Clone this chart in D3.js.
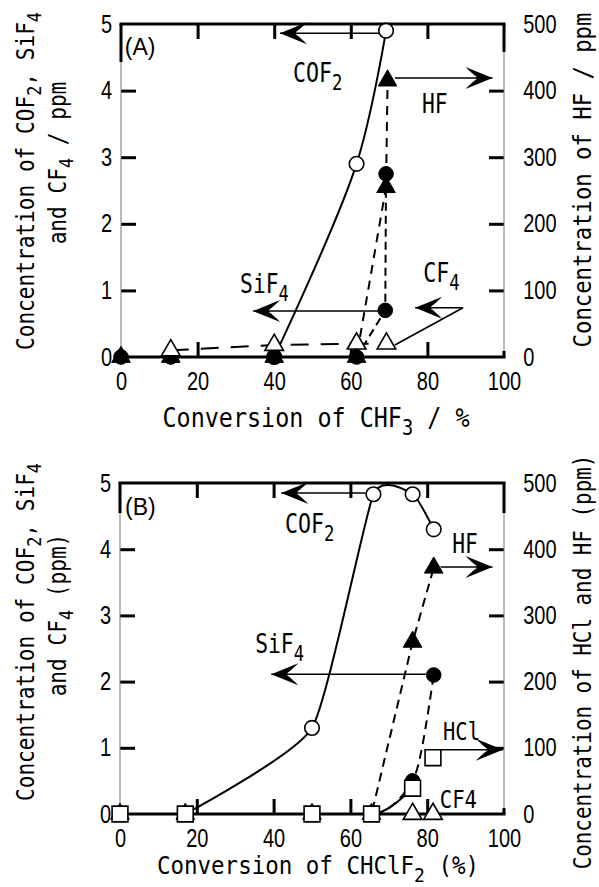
<!DOCTYPE html>
<html><head><meta charset="utf-8">
<script src="https://cdn.jsdelivr.net/npm/d3@7"></script>
<style>body{margin:0;background:#fff}</style>
</head><body>
<svg id="fig" width="599" height="887"></svg>
<script>
// ---- (A) CHF3 conversion ----
const convA_COF2 = [40, 61.5, 69.2];
const valA_COF2  = [0, 2.9, 4.9];          // ppm, left axis
const convA_SiF4 = [0, 13, 40, 61.5, 69, 69.2];
const valA_SiF4  = [0, 0, 0, 0, 0.7, 2.75]; // ppm, left axis
const convA_HF   = [0, 13, 40, 61.5, 69.2, 69.6];
const valA_HF    = [0, 0, 0, 0, 255, 415];  // ppm, right axis
const convA_CF4  = [13, 40, 61.5, 69.3];
const valA_CF4   = [0.1, 0.18, 0.2, 0.2];   // ppm, left axis

// ---- (B) CHClF2 conversion ----
const convB_COF2 = [17, 50, 66, 76.2, 81.7];
const valB_COF2  = [0, 1.3, 4.83, 4.83, 4.3];
const convB_SiF4 = [0, 17, 50, 65.5, 76.2, 81.7];
const valB_SiF4  = [0, 0, 0, 0, 0.5, 2.1];
const convB_HF   = [0, 17, 50, 65.5, 76.2, 81.7];
const valB_HF    = [0, 0, 0, 0, 260, 372];
const convB_HCl  = [0, 17, 50, 65.5, 76.2, 81.5];
const valB_HCl   = [0, 0, 0, 0, 39, 85];
const convB_CF4  = [76.2, 81.5];
const valB_CF4   = [0, 0];

const xTicks = [0, 20, 40, 60, 80, 100];
const yLeftTicks = [0, 1, 2, 3, 4, 5];
const yRightTicks = [0, 100, 200, 300, 400, 500];

const MONO = "'DejaVu Sans Mono', 'Liberation Mono', monospace";
const SANS = "'Liberation Sans', Arial, sans-serif";
const svg = d3.select("#fig");

const zip = (xs, ys) => xs.map((v, i) => [v, ys[i]]);

// text with optional subscripts: parts starting with "_" are subscripted
function label(g, x, y, parts, o) {
  const s = o.size;
  const t = g.append("text")
    .attr("transform", `translate(${x},${y}) rotate(${o.rot || 0}) scale(${o.sx || 1},1)`)
    .attr("font-family", o.font || MONO).attr("font-size", s)
    .attr("text-anchor", o.anchor || "start").attr("fill", "#000")
    .style("white-space", "pre");
  let down = 0;
  parts.forEach(p => {
    const sub = p.startsWith("_");
    const want = sub ? s * 0.3 : 0;
    t.append("tspan").attr("font-size", sub ? s * 0.8 : s)
      .attr("dy", want - down).text(sub ? p.slice(1) : p);
    down = want;
  });
}

// arrow along a polyline, head at the last point
function arrow(g, pts) {
  g.append("path").attr("d", d3.line()(pts)).attr("fill", "none")
    .attr("stroke", "#000").attr("stroke-width", 1.6);
  const [x2, y2] = pts[pts.length - 1], [x1, y1] = pts[pts.length - 2];
  const ang = Math.atan2(y1 - y2, x1 - x2) * 180 / Math.PI;
  g.append("path")
    .attr("d", "M0,0 L27,-11 Q20,-4 16,-1.3 L16,1.3 Q20,4 27,11 Z")
    .attr("transform", `translate(${x2},${y2}) rotate(${ang})`)
    .attr("fill", "#000");
}

function panel(cfg) {
  const g = svg.append("g");
  const x = d3.scaleLinear().domain([0, 100]).range([cfg.left, cfg.right]);
  const yL = d3.scaleLinear().domain([0, 5]).range([cfg.bottom, cfg.top]);
  const yR = d3.scaleLinear().domain([0, 500]).range([cfg.bottom, cfg.top]);

  const style = (ax, ends) => {
    ax.select(".domain").remove();
    ax.selectAll(".tick line").attr("stroke", "#000").attr("stroke-width", 3);
    ax.selectAll(".tick").filter(d => ends.includes(d)).select("line").remove();
    ax.selectAll(".tick text").attr("font-family", SANS).attr("font-size", 25)
      .attr("fill", "#000").attr("transform", "scale(0.8,1)");
  };

  style(g.append("g").attr("transform", `translate(${cfg.left},0)`)
    .call(d3.axisLeft(yL).tickValues(yLeftTicks).tickSizeInner(-15).tickSizeOuter(0).tickPadding(11)
      .tickFormat(d3.format("d"))), [0, 5]);
  style(g.append("g").attr("transform", `translate(${cfg.right},0)`)
    .call(d3.axisRight(yR).tickValues(yRightTicks).tickSizeInner(-15).tickSizeOuter(0).tickPadding(24)
      .tickFormat(d3.format("d"))), [0, 500]);
  style(g.append("g").attr("transform", `translate(0,${cfg.bottom})`)
    .call(d3.axisBottom(x).tickValues(xTicks).tickSizeInner(-15).tickSizeOuter(0).tickPadding(15)
      .tickFormat(d3.format("d"))), [0, 100]);
  style(g.append("g").attr("transform", `translate(0,${cfg.top})`)
    .call(d3.axisTop(x).tickValues(xTicks).tickSizeInner(-15).tickSizeOuter(0)
      .tickFormat(() => "")), [0, 100]);

  // frame: heavy top/bottom, light sides with heavy stubs at corners
  const fr = g.append("g").attr("stroke", "#000");
  fr.append("line").attr("x1", cfg.left - 1.5).attr("x2", cfg.right + 1.5)
    .attr("y1", cfg.top).attr("y2", cfg.top).attr("stroke-width", 3);
  fr.append("line").attr("x1", cfg.left - 1.5).attr("x2", cfg.right + 1.5)
    .attr("y1", cfg.bottom).attr("y2", cfg.bottom).attr("stroke-width", 3);
  fr.append("line").attr("x1", cfg.left).attr("x2", cfg.left)
    .attr("y1", cfg.top).attr("y2", cfg.bottom).attr("stroke", "#777").attr("stroke-width", 1);
  fr.append("line").attr("x1", cfg.right).attr("x2", cfg.right)
    .attr("y1", cfg.top).attr("y2", cfg.bottom).attr("stroke", "#777").attr("stroke-width", 1);
  fr.append("line").attr("x1", cfg.left).attr("x2", cfg.left)
    .attr("y1", cfg.top).attr("y2", cfg.top + cfg.lcap).attr("stroke-width", 3);
  fr.append("line").attr("x1", cfg.right).attr("x2", cfg.right)
    .attr("y1", cfg.top).attr("y2", cfg.top + cfg.rcap).attr("stroke-width", 3);
  fr.append("line").attr("x1", cfg.right).attr("x2", cfg.right)
    .attr("y1", cfg.bottom - 6).attr("y2", cfg.bottom).attr("stroke-width", 3);

  return { g, x, yL, yR };
}

function curve(P, pts, y, c, dash, w) {
  P.g.append("path")
    .attr("d", d3.line().x(d => P.x(d[0])).y(d => y(d[1])).curve(c)(pts))
    .attr("fill", "none").attr("stroke", "#000").attr("stroke-width", w || 2)
    .attr("stroke-dasharray", dash || null);
}
const triSym = d3.symbol().type(d3.symbolTriangle).size(150)();
const sqSym = d3.symbol().type(d3.symbolSquare).size(250)();
function marks(P, pts, y, kind, filled) {
  const sel = P.g.append("g").selectAll("*").data(pts);
  const common = s => s.attr("fill", filled ? "#000" : "#fff")
    .attr("stroke", "#000").attr("stroke-width", filled ? 1 : 1.6);
  if (kind === "circle") {
    common(sel.join("circle").attr("cx", d => P.x(d[0])).attr("cy", d => y(d[1])).attr("r", 7.3));
  } else {
    common(sel.join("path").attr("d", kind === "tri" ? triSym : sqSym)
      .attr("transform", d => `translate(${P.x(d[0])},${y(d[1])})`));
  }
}

// ================= Panel (A) =================
const A = panel({ left: 121, right: 504, top: 24, bottom: 357, lcap: 38, rcap: 28 });
curve(A, zip(convA_COF2, valA_COF2), A.yL, d3.curveCatmullRom.alpha(0.5));
curve(A, zip(convA_SiF4, valA_SiF4), A.yL, d3.curveLinear, "8,5");
curve(A, zip(convA_HF, valA_HF), A.yR, d3.curveLinear, "9,7");
curve(A, zip(convA_CF4, valA_CF4), A.yL, d3.curveLinear, "18,12");

arrow(A.g, [[A.x(67.3), A.yL(4.86)], [A.x(41.5), A.yL(4.86)]]);
arrow(A.g, [[A.x(71.5), A.yR(419)], [A.x(97), A.yR(419)]]);
arrow(A.g, [[A.x(67.2), A.yL(0.69)], [A.x(34.5), A.yL(0.69)]]);
arrow(A.g, [[A.x(71.5), A.yL(0.18)], [A.x(89.3), A.yL(0.74)], [A.x(76.8), A.yL(0.74)]]);

marks(A, zip(convA_COF2, valA_COF2), A.yL, "circle", false);
marks(A, zip(convA_SiF4, valA_SiF4), A.yL, "circle", true);
marks(A, zip(convA_HF, valA_HF), A.yR, "tri", true);
marks(A, zip(convA_CF4, valA_CF4), A.yL, "tri", false);

label(A.g, A.x(1), A.yL(4.53), ["(A)"], { size: 23, font: SANS });
label(A.g, A.x(44.9), A.yL(4.13), ["COF", "_2"], { size: 27, sx: 0.8 });
label(A.g, A.x(78.6), A.yL(3.66), ["HF"], { size: 26, sx: 0.82 });
label(A.g, A.x(31.1), A.yL(0.96), ["SiF", "_4"], { size: 26, sx: 0.82 });
label(A.g, A.x(78.9), A.yL(1.13), ["CF", "_4"], { size: 27, sx: 0.8 });

label(svg, 316, 427, ["Conversion of CHF", "_3", " / %"], { size: 26, sx: 0.9, anchor: "middle" });
label(svg, 34, 181, ["Concentration of COF", "_2", ", SiF", "_4"], { size: 24, sx: 0.88, anchor: "middle", rot: -90 });
label(svg, 66, 163, ["and CF", "_4", " / ppm"], { size: 24, sx: 0.88, anchor: "middle", rot: -90 });
label(svg, 591, 180, ["Concentration of HF / ppm"], { size: 25, sx: 0.89, anchor: "middle", rot: -90 });

// ================= Panel (B) =================
const B = panel({ left: 120, right: 504, top: 483, bottom: 814, lcap: 30, rcap: 30 });
curve(B, zip(convB_COF2, valB_COF2), B.yL, d3.curveCardinal.tension(0.5));
// HCl trace is joined up to the 76 % run only
curve(B, zip(convB_HCl, valB_HCl).slice(2, 5), B.yR, d3.curveMonotoneX);
curve(B, zip(convB_SiF4, valB_SiF4), B.yL, d3.curveMonotoneX, "9,6");
curve(B, zip(convB_HF, valB_HF), B.yR, d3.curveLinear, "9,6");

arrow(B.g, [[B.x(64), B.yL(4.85)], [B.x(42), B.yL(4.85)]]);
arrow(B.g, [[B.x(79.8), B.yL(2.11)], [B.x(39.4), B.yL(2.11)]]);
arrow(B.g, [[B.x(83.5), B.yR(373)], [B.x(97), B.yR(373)]]);
arrow(B.g, [[B.x(83.6), B.yR(97)], [B.x(99.7), B.yR(97)]]);

marks(B, zip(convB_COF2, valB_COF2), B.yL, "circle", false);
marks(B, zip(convB_SiF4, valB_SiF4), B.yL, "circle", true);
marks(B, zip(convB_HF, valB_HF), B.yR, "tri", true);
marks(B, zip(convB_CF4, valB_CF4), B.yL, "tri", false);
marks(B, zip(convB_HCl, valB_HCl), B.yR, "square", false);

label(B.g, B.x(1.3), B.yL(4.52), ["(B)"], { size: 23, font: SANS });
label(B.g, B.x(43), B.yL(4.24), ["COF", "_2"], { size: 27, sx: 0.8 });
label(B.g, B.x(86.5), B.yL(3.94), ["HF"], { size: 26, sx: 0.82 });
label(B.g, B.x(35.2), B.yL(2.43), ["SiF", "_4"], { size: 26, sx: 0.82 });
label(B.g, B.x(84.1), B.yL(1.12), ["HCl"], { size: 25, sx: 0.82 });
label(B.g, B.x(83.3), B.yL(0.09), ["CF4"], { size: 25, sx: 0.82 });

label(svg, 318, 874, ["Conversion of CHClF", "_2", " (%)"], { size: 25, sx: 0.9, anchor: "middle" });
label(svg, 34, 632, ["Concentration of COF", "_2", ", SiF", "_4"], { size: 24, sx: 0.88, anchor: "middle", rot: -90 });
label(svg, 66, 615, ["and CF", "_4", " (ppm)"], { size: 24, sx: 0.88, anchor: "middle", rot: -90 });
label(svg, 591, 662, ["Concentration of HCl and HF (ppm)"], { size: 24, sx: 0.87, anchor: "middle", rot: -90 });
</script>
</body></html>
